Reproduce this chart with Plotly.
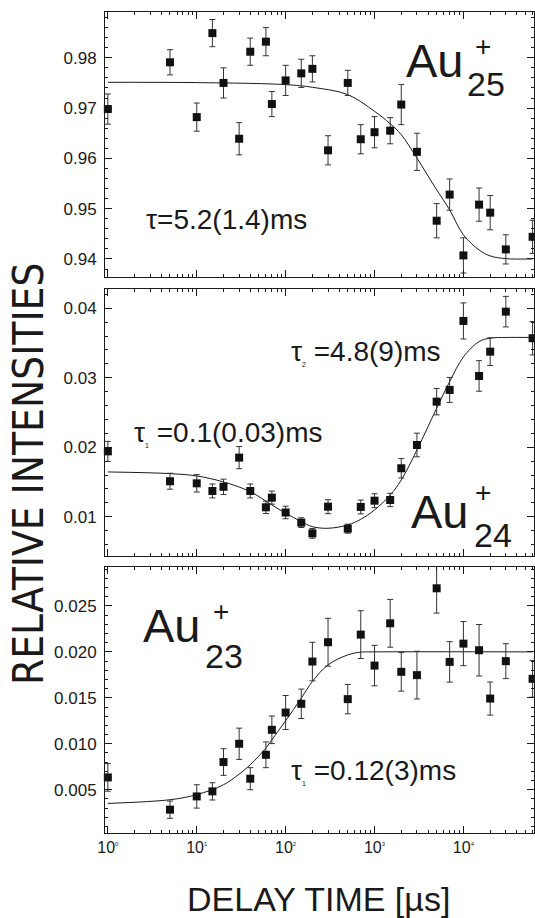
import plotly.graph_objects as go

# ---------------- data ----------------
delay_us = [1, 5, 10, 15, 20, 30, 40, 60, 70, 100, 150, 200, 300, 500, 700,
            1000, 1500, 2000, 3000, 5000, 7000, 10000, 15000, 20000, 30000, 60000]

au25 = [0.9698, 0.9791, 0.9682, 0.9849, 0.9750, 0.9639, 0.9812, 0.9832, 0.9708,
        0.9755, 0.9769, 0.9778, 0.9616, 0.9750, 0.9638, 0.9652, 0.9655, 0.9707,
        0.9613, 0.9476, 0.9528, 0.9407, 0.9508, 0.9492, 0.9419, 0.9444]
au25_err = [0.0030, 0.0025, 0.0028, 0.0027, 0.0030, 0.0032, 0.0027, 0.0028, 0.0025,
            0.0030, 0.0028, 0.0026, 0.0029, 0.0025, 0.0029, 0.0031, 0.0026, 0.0040,
            0.0037, 0.0034, 0.0031, 0.0035, 0.0033, 0.0034, 0.0029, 0.0033]

au24 = [0.0194, 0.0151, 0.0148, 0.0137, 0.0143, 0.0185, 0.0137, 0.01135, 0.01274,
        0.0106, 0.00914, 0.0076, 0.01144, 0.00827, 0.0114, 0.0123, 0.0124, 0.01697,
        0.02032, 0.02656, 0.02825, 0.03818, 0.03026, 0.03376, 0.03952, 0.03569]
au24_err = [0.00144, 0.00115, 0.00125, 0.0010, 0.0011, 0.0016, 0.0010, 0.0009, 0.00094,
            0.0009, 0.0007, 0.0007, 0.0010, 0.00065, 0.0010, 0.0010, 0.00096, 0.0014,
            0.0017, 0.0019, 0.0018, 0.0026, 0.0022, 0.0020, 0.0022, 0.0024]

au23 = [0.00634, 0.00283, 0.00427, 0.00482, 0.00801, 0.0100, 0.0062, 0.0088, 0.01152,
        0.0134, 0.01435, 0.01895, 0.02105, 0.01486, 0.02188, 0.01851, 0.02311, 0.01783,
        0.01747, 0.02692, 0.01891, 0.0209, 0.02018, 0.01492, 0.01899, 0.01707]
au23_err = [0.0015, 0.00094, 0.00127, 0.00094, 0.00145, 0.0017, 0.0012, 0.0014, 0.0015,
            0.00185, 0.0016, 0.0021, 0.0026, 0.0016, 0.0026, 0.0022, 0.0026, 0.0021,
            0.0026, 0.0027, 0.0022, 0.0024, 0.0028, 0.0018, 0.0019, 0.0020]

# fitted curves
fit25_t = [1, 10, 100, 200, 500, 1000, 1500, 2000, 3000, 5000, 7000, 10000,
           15000, 20000, 30000, 60000]
fit25_y = [0.97512, 0.97506, 0.97466, 0.97413, 0.97267, 0.96935, 0.96689, 0.96470,
           0.96005, 0.95375, 0.94976, 0.94478, 0.94179, 0.94060, 0.94006, 0.94000]

fit24_t = [1, 5, 10, 20, 40, 70, 100, 150, 200, 300, 500, 700, 1000, 1500, 2000,
           3000, 5000, 7000, 10000, 15000, 20000, 30000, 60000]
fit24_y = [0.01644, 0.0162, 0.01586, 0.0150, 0.0136, 0.01168, 0.0105, 0.0093, 0.00856,
           0.00833, 0.0088, 0.00962, 0.01096, 0.01312, 0.01528, 0.01961, 0.02561,
           0.02944, 0.0330, 0.0352, 0.0357, 0.0358, 0.0358]

fit23_t = [1, 5, 10, 20, 30, 40, 60, 70, 100, 150, 200, 300, 500, 700, 1000, 60000]
fit23_y = [0.00351, 0.00391, 0.00446, 0.00554, 0.0067, 0.00772, 0.00953, 0.01043,
           0.0125, 0.01497, 0.01677, 0.01859, 0.01967, 0.01997, 0.0200, 0.0200]

x_tick_vals = [1, 10, 100, 1000, 10000]
x_tick_exps = ["0", "1", "2", "3", "4"]

# ---------------- layout helpers ----------------
FIG_W, FIG_H = 535, 918
# plot-area edges in pixels
L, R, T, B = 105, 534, 12, 833
W, H = R - L, B - T


def px(x):
    return (x - L) / W


def py(y):
    return (B - y) / H


INK = "#1a1a1a"
fig = go.Figure()

panels = [
    ("y", au25, au25_err, fit25_t, fit25_y),
    ("y2", au24, au24_err, fit24_t, fit24_y),
    ("y3", au23, au23_err, fit23_t, fit23_y),
]
xaxes = ["x", "x2", "x3"]
for (yax, vals, errs, ft, fy), xax in zip(panels, xaxes):
    fig.add_trace(go.Scatter(
        x=ft, y=fy, mode="lines", line=dict(color=INK, width=1, shape="spline"),
        xaxis=xax, yaxis=yax, showlegend=False, hoverinfo="skip"))
    fig.add_trace(go.Scatter(
        x=delay_us, y=vals, mode="markers",
        marker=dict(symbol="square", size=8, color="#111111"),
        error_y=dict(type="data", array=errs, visible=True, color="#333333",
                     thickness=1, width=3),
        xaxis=xax, yaxis=yax, showlegend=False, cliponaxis=False))

minor_x = [m * 10 ** d for d in range(0, 5) for m in range(2, 10)]

axis_font = dict(family="Liberation Sans, Arial, sans-serif", size=17, color=INK)
common_x = dict(
    type="log", range=[-0.032, 4.794], showline=True, linecolor=INK, linewidth=1,
    mirror="ticks", ticks="inside", ticklen=7, tickcolor=INK, tickwidth=1,
    tickmode="array", tickvals=x_tick_vals, showgrid=False, zeroline=False,
    minor=dict(tickmode="array", tickvals=minor_x, ticks="inside", ticklen=3,
               tickcolor=INK, showgrid=False),
)
common_y = dict(
    showline=True, linecolor=INK, linewidth=1, mirror="ticks", ticks="inside",
    ticklen=7, tickcolor=INK, showgrid=False, zeroline=False, tickfont=axis_font,
    ticklabelstandoff=4,
)

tick_text = ['10<sup><span style="font-size:6px">%s</span></sup>' % e for e in x_tick_exps]

fig.update_layout(
    width=FIG_W, height=FIG_H,
    margin=dict(l=L, r=FIG_W - R, t=T, b=FIG_H - B),
    paper_bgcolor="white", plot_bgcolor="white",
    xaxis=dict(common_x, domain=[0, 1], anchor="y", showticklabels=False),
    xaxis2=dict(common_x, domain=[0, 1], anchor="y2", matches="x", showticklabels=False),
    xaxis3=dict(common_x, domain=[0, 1], anchor="y3", matches="x",
                ticktext=tick_text, tickfont=dict(family="Liberation Sans, Arial, sans-serif", size=16, color=INK)),
    yaxis=dict(common_y, domain=[py(277.3), 1.0], anchor="x", range=[0.93635, 0.9891],
               tickvals=[0.94, 0.95, 0.96, 0.97, 0.98], tickformat=".2f",
               minor=dict(dtick=0.002, ticks="inside", ticklen=3, tickcolor=INK)),
    yaxis2=dict(common_y, domain=[py(555.7), py(289)], anchor="x2", range=[0.00438, 0.04278],
                tickvals=[0.01, 0.02, 0.03, 0.04], tickformat=".2f",
                minor=dict(dtick=0.002, tick0=0, ticks="inside", ticklen=3, tickcolor=INK)),
    yaxis3=dict(common_y, domain=[0, py(566.7)], anchor="x3", range=[0.00029, 0.02927],
                tickvals=[0.005, 0.010, 0.015, 0.020, 0.025], tickformat=".3f",
                minor=dict(dtick=0.001, tick0=0, ticks="inside", ticklen=3, tickcolor=INK)),
)

TXT = "Liberation Sans, Arial, sans-serif"


def note(text, x, y, size, xanchor="left", yanchor="middle", family=TXT, angle=0):
    fig.add_annotation(text=text, x=px(x), y=py(y), xref="paper", yref="paper",
                       xanchor=xanchor, yanchor=yanchor, showarrow=False,
                       font=dict(family=family, size=size, color=INK), textangle=angle)


# cluster labels
for ax_, ay_, px_, py_, sx_, sy_, sub in [
        (404, 60, 483, 47, 465, 84.5, "25"),
        (409, 511, 483, 492, 472, 535, "24"),
        (141, 625.5, 221, 611, 203, 655.5, "23")]:
    note("Au", ax_, ay_, 47)
    note("+", px_, py_, 28, xanchor="center")
    note(sub, sx_, sy_, 34)

# lifetimes
tiny = '<sub><span style="font-size:7px">%s</span></sub>'
note("τ=5.2(1.4)ms", 144, 220, 28)
note("τ" + tiny % "1" + " =0.1(0.03)ms", 132, 433, 28)
note("τ" + tiny % "2" + " =4.8(9)ms", 289, 352, 28)
note("τ" + tiny % "1" + " =0.12(3)ms", 289, 771, 28)

# axis titles
note("DELAY TIME [µs]", 318, 899, 34, xanchor="center")
note("RELATIVE INTENSITIES", 28, 474, 42, xanchor="center",
     family="Liberation Sans Narrow, DejaVu Sans Condensed, Arial Narrow, sans-serif", angle=-90)

# the page's default 8px body margin would push the figure past the window edge
fig.write_html(
    "out.html",
    config={"displayModeBar": False},
    post_script="document.body.style.margin='0px';document.body.style.overflow='hidden';",
)
